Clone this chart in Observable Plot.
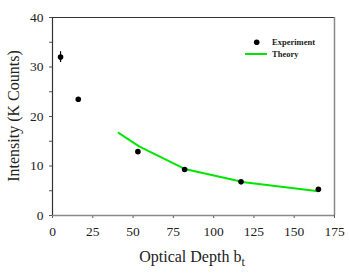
<!DOCTYPE html>
<html><head><meta charset="utf-8">
<script src="https://cdn.jsdelivr.net/npm/d3@7"></script>
<script src="https://cdn.jsdelivr.net/npm/@observablehq/plot@0.6"></script>
<style>body{margin:0;background:#fff;} svg{display:block;} svg text{font-family:'Liberation Serif','Times New Roman',serif !important;}
g[aria-label="x-axis tick label"], g[aria-label="y-axis tick label"]{font-size:13.5px !important;}
g[aria-label="x-axis tick label"] text, g[aria-label="y-axis tick label"] text{font-size:13.5px !important;}</style>
</head><body><div id="chart"></div>
<script>
const expX = [5, 16, 53, 82, 117, 165];
const expY = [32, 23.5, 12.9, 9.3, 6.8, 5.3];
const expErr = [1.1, 0.4, 0.3, 0.3, 0.3, 0.3];
const theoryX = [41, 54, 82, 119, 165];
const theoryY = [16.7, 13.9, 9.4, 6.7, 4.9];
const xTicks = [0, 25, 50, 75, 100, 125, 150, 175];
const yTicks = [0, 5, 10, 15, 20, 25, 30, 35, 40];
const xTitle = "Optical Depth b";
const xTitleSub = "t";
const yTitle = "Intensity (K Counts)";
const legendLabels = ["Experiment", "Theory"];

const exp = expX.map((x, i) => ({x, y: expY[i], e: expErr[i]}));
const theory = theoryX.map((x, i) => ({x, y: theoryY[i]}));
const green = "#00e600";
const font = "'Liberation Serif', 'Times New Roman', serif";

const plot = Plot.plot({
  width: 349, height: 274,
  marginLeft: 52, marginRight: 15, marginTop: 17, marginBottom: 59,
  style: {fontFamily: font, fontSize: "13px", background: "#fff", color: "#222"},
  x: {domain: [0, 175]},
  y: {domain: [0, 40]},
  marks: [
    Plot.ruleY([40], {stroke: "#333", strokeWidth: 1.2}),
    Plot.ruleX([175], {stroke: "#888", strokeWidth: 1.5}),
    Plot.axisX({ticks: xTicks, tickSize: 3, tickPadding: 8, fontSize: 13.5, label: null, stroke: "#555"}),
    Plot.axisY({ticks: yTicks, tickSize: 3, tickPadding: 6, fontSize: 13.5, label: null, stroke: "#555",
      tickFormat: d => d % 10 === 0 ? String(d) : ""}),
    Plot.ruleY([0], {stroke: "#888", strokeWidth: 1.5}),
    Plot.ruleX([0], {stroke: "#333", strokeWidth: 1.2}),
    Plot.line(theory, {x: "x", y: "y", stroke: green, strokeWidth: 2}),
    Plot.ruleX(exp.filter(d => d.e > 0.5), {x: "x", y1: d => d.y - d.e, y2: d => d.y + d.e, stroke: "#000", strokeWidth: 1.2}),
    Plot.dot(exp, {x: "x", y: "y", r: 2.8, fill: "#000"})
  ]
});
document.getElementById("chart").appendChild(plot);

const svg = d3.select(plot);
const xt = svg.append("text").attr("x", 192).attr("y", 262).attr("text-anchor", "middle")
  .attr("font-size", 16).attr("fill", "#222");
xt.append("tspan").text(xTitle);
xt.append("tspan").attr("dy", 4).attr("font-size", 12).text(xTitleSub);

svg.append("text").attr("transform", "translate(19,116) rotate(-90)").attr("text-anchor", "middle")
  .attr("font-size", 16).attr("fill", "#222").text(yTitle);

const lg = svg.append("g").attr("font-size", 8.5).attr("font-weight", "bold").attr("fill", "#222").attr("text-anchor", "start");
lg.append("circle").attr("cx", 256.7).attr("cy", 42.3).attr("r", 2.8).attr("fill", "#000");
lg.append("text").attr("x", 272).attr("y", 45.3).attr("text-anchor", "start").text(legendLabels[0]);
lg.append("line").attr("x1", 245).attr("x2", 267).attr("y1", 54).attr("y2", 54).attr("stroke", green).attr("stroke-width", 2);
lg.append("text").attr("x", 272).attr("y", 57).attr("text-anchor", "start").text(legendLabels[1]);
</script></body></html>
